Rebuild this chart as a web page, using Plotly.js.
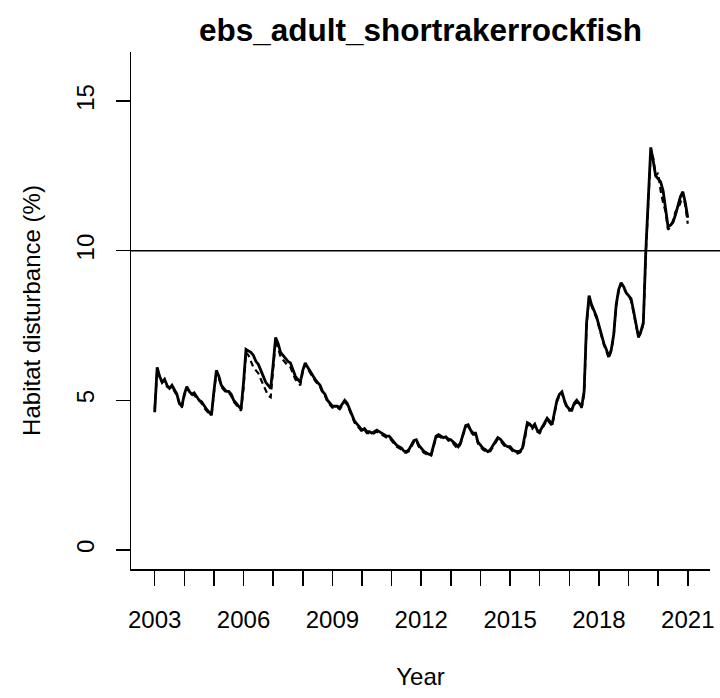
<!DOCTYPE html>
<html>
<head>
<meta charset="utf-8">
<script src="https://cdn.plot.ly/plotly-3.0.1.min.js"></script>
<style>html,body{margin:0;padding:0;background:#fff;}#chart{width:720px;height:698px;}</style>
</head>
<body>
<div id="chart"></div>
<script>
// Monthly habitat disturbance (%) starting Jan 2003
const startYear = 2003;
const solidValues = [
  4.6, 6.1, 5.8, 5.6, 5.7, 5.5, 5.4, 5.5, 5.35, 5.2, 4.9, 4.8,
  5.2, 5.45, 5.3, 5.2, 5.25, 5.1, 5.0, 4.95, 4.8, 4.7, 4.6, 4.5,
  5.3, 6.0, 5.8, 5.5, 5.4, 5.3, 5.3, 5.2, 5.0, 4.9, 4.8, 4.7,
  5.6, 6.7, 6.65, 6.6, 6.5, 6.3, 6.2, 6.0, 5.8, 5.6, 5.5, 5.4,
  6.2, 7.1, 6.9, 6.6, 6.5, 6.4, 6.3, 6.25, 6.0, 5.8, 5.7, 5.6,
  6.0, 6.25, 6.1, 5.95, 5.8, 5.7, 5.6, 5.5, 5.3, 5.2, 5.0, 4.9,
  4.8, 4.8, 4.8, 4.75, 4.9, 5.0, 4.9, 4.7, 4.5, 4.3, 4.2, 4.1,
  4.0, 4.05, 3.95, 3.95, 3.9, 3.95, 4.0, 3.95, 3.9, 3.85, 3.8, 3.8,
  3.7, 3.6, 3.5, 3.45, 3.4, 3.3, 3.28, 3.35, 3.5, 3.65, 3.68, 3.5,
  3.4, 3.3, 3.25, 3.2, 3.18, 3.5, 3.8, 3.85, 3.8, 3.75, 3.78, 3.7,
  3.68, 3.6, 3.5, 3.45, 3.6, 3.9, 4.15, 4.18, 4.0, 3.9, 3.9, 3.6,
  3.5, 3.4, 3.35, 3.28, 3.35, 3.5, 3.65, 3.75, 3.7, 3.6, 3.5, 3.45,
  3.45, 3.35, 3.3, 3.28, 3.3, 3.4, 3.8, 4.25, 4.2, 4.1, 4.2, 4.0,
  3.95, 4.1, 4.3, 4.4, 4.3, 4.18, 4.6, 5.0, 5.2, 5.28, 5.0, 4.8,
  4.7, 4.68, 4.9, 5.0, 4.9, 4.78, 5.3, 7.6, 8.5, 8.2, 8.0, 7.8,
  7.5, 7.2, 6.9, 6.7, 6.45, 6.7, 7.2, 8.2, 8.7, 8.93, 8.8, 8.6,
  8.5, 8.4, 8.0, 7.5, 7.12, 7.3, 7.6, 10.0, 11.8, 13.45, 13.0, 12.5,
  12.4, 12.3, 12.0, 11.3, 10.8, 10.85, 10.95, 11.2, 11.5, 11.8, 11.97, 11.6,
  11.1
];
const dashedValues = [
  4.7, 6.0, 5.75, 5.6, 5.65, 5.45, 5.4, 5.45, 5.3, 5.15, 4.9, 4.75,
  5.15, 5.4, 5.3, 5.15, 5.2, 5.05, 5.0, 4.9, 4.75, 4.65, 4.55, 4.5,
  5.2, 5.95, 5.75, 5.45, 5.35, 5.25, 5.25, 5.15, 4.95, 4.85, 4.75, 4.65,
  5.4, 6.6, 6.5, 6.3, 6.1, 6.0, 5.9, 5.7, 5.5, 5.3, 5.15, 5.1,
  6.0, 7.0, 6.75, 6.45, 6.35, 6.25, 6.15, 6.1, 5.9, 5.7, 5.6, 5.5,
  5.95, 6.2, 6.05, 5.9, 5.75, 5.65, 5.55, 5.45, 5.25, 5.15, 4.95, 4.85,
  4.75, 4.75, 4.75, 4.7, 4.85, 4.95, 4.85, 4.65, 4.45, 4.25, 4.15, 4.05,
  3.95, 4.0, 3.9, 3.9, 3.85, 3.9, 3.95, 3.9, 3.85, 3.8, 3.75, 3.75,
  3.65, 3.55, 3.45, 3.4, 3.35, 3.25, 3.25, 3.3, 3.45, 3.6, 3.65, 3.45,
  3.35, 3.25, 3.2, 3.15, 3.15, 3.45, 3.75, 3.8, 3.75, 3.7, 3.75, 3.65,
  3.65, 3.55, 3.45, 3.4, 3.55, 3.85, 4.1, 4.15, 3.95, 3.85, 3.85, 3.55,
  3.45, 3.35, 3.3, 3.25, 3.3, 3.45, 3.6, 3.7, 3.65, 3.55, 3.45, 3.4,
  3.4, 3.3, 3.25, 3.22, 3.25, 3.35, 3.7, 4.2, 4.15, 4.05, 4.15, 3.95,
  3.9, 4.05, 4.25, 4.35, 4.25, 4.15, 4.55, 4.95, 5.15, 5.25, 4.95, 4.75,
  4.65, 4.65, 4.85, 4.95, 4.85, 4.75, 5.2, 7.5, 8.45, 8.15, 7.95, 7.75,
  7.45, 7.15, 6.85, 6.65, 6.4, 6.65, 7.15, 8.15, 8.65, 8.9, 8.75, 8.55,
  8.45, 8.35, 7.95, 7.45, 7.1, 7.25, 7.55, 9.9, 11.6, 13.3, 13.1, 12.5,
  12.6, 12.0, 11.6, 11.3, 10.7, 10.8, 11.0, 11.3, 11.4, 11.6, 11.9, 11.5,
  10.9
];
const thresholdValue = 10;
const tickYears = [2003,2004,2005,2006,2007,2008,2009,2010,2011,2012,2013,2014,2015,2016,2017,2018,2019,2020,2021];
const tickLabels = ['2003','','','2006','','','2009','','','2012','','','2015','','','2018','','','2021'];
const yTicks = [0, 5, 10, 15];
const yTickLabels = ['0', '5', '10', '15'];

const xSolid = solidValues.map((_, i) => startYear + i / 12);
const xDashed = dashedValues.map((_, i) => startYear + i / 12);

const FONT = 'Liberation Sans, Arial, sans-serif';

const traces = [
  {x: xDashed, y: dashedValues, type: 'scatter', mode: 'lines',
   line: {color: '#000', width: 2.2, dash: '6px,4px'}, hoverinfo: 'skip'},
  {x: xSolid, y: solidValues, type: 'scatter', mode: 'lines',
   line: {color: '#000', width: 2.8}, hoverinfo: 'skip'}
];

const layout = {
  width: 720, height: 698,
  paper_bgcolor: '#fff', plot_bgcolor: '#fff',
  showlegend: false,
  margin: {l: 131, r: 10, t: 52, b: 129},
  font: {family: FONT, color: '#000', size: 24},
  title: {text: '<b>ebs_adult_shortrakerrockfish</b>', font: {family: FONT, size: 31.5, color: '#000'},
          x: 0.584, xanchor: 'center', y: 0.957, yanchor: 'middle'},
  xaxis: {
    range: [2002.2, 2021.75], showgrid: false, zeroline: false,
    showline: true, linecolor: '#000', linewidth: 1.5,
    ticks: 'outside', ticklen: 15, tickwidth: 1.5, tickcolor: '#000',
    tickmode: 'array', tickvals: tickYears, ticktext: tickLabels,
    ticklabelstandoff: 14,
    tickfont: {family: FONT, size: 24, color: '#000'},
    title: {text: 'Year', font: {family: FONT, size: 24, color: '#000'}, standoff: 36}
  },
  yaxis: {
    range: [-0.64, 16.64], showgrid: false, zeroline: false,
    showline: true, linecolor: '#000', linewidth: 1.5,
    ticks: 'outside', ticklen: 14, tickwidth: 1.5, tickcolor: '#000',
    tickmode: 'array', tickvals: yTicks, ticktext: yTickLabels, tickangle: -90,
    ticklabelstandoff: 12,
    tickfont: {family: FONT, size: 24, color: '#000'},
    title: {text: 'Habitat disturbance (%)', font: {family: FONT, size: 24, color: '#000'}, standoff: 24}
  },
  shapes: [
    {type: 'line', xref: 'paper', x0: 0, x1: 1.02, yref: 'y', y0: thresholdValue, y1: thresholdValue,
     line: {color: '#000', width: 1.5}}
  ]
};

Plotly.newPlot('chart', traces, layout, {displayModeBar: false, staticPlot: true});
</script>
</body>
</html>
